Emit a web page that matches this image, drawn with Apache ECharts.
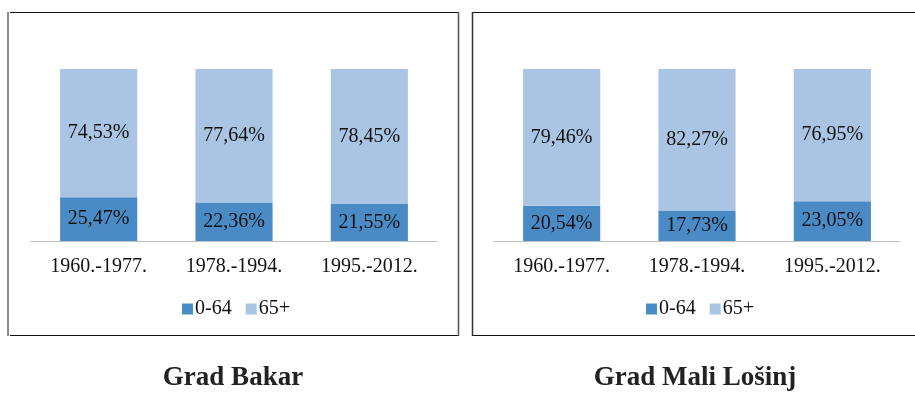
<!DOCTYPE html>
<html>
<head>
<meta charset="utf-8">
<script src="https://cdn.jsdelivr.net/npm/echarts@6/dist/echarts.min.js"></script>
<style>
  html, body { margin: 0; padding: 0; background: #fff; }
  #chart { width: 915px; height: 393px; }
</style>
</head>
<body>
<div id="chart"></div>
<script>
// Share of population by age group, three periods, two towns
const periods = ['1960.-1977.', '1978.-1994.', '1995.-2012.'];
const seriesNames = ['0-64', '65+'];
const bakarYoung = [25.47, 22.36, 21.55];
const bakarOld = [74.53, 77.64, 78.45];
const losinjYoung = [20.54, 17.73, 23.05];
const losinjOld = [79.46, 82.27, 76.95];
const townNames = ['Grad Bakar', 'Grad Mali Lošinj'];

const FONT = "'Liberation Serif', 'Times New Roman', serif";
const DARK = '#4a8bc6';
const LIGHT = '#a9c5e3';

const chart = echarts.init(document.getElementById('chart'), null, { renderer: 'canvas' });

const fmt = p => p.value.toFixed(2).replace('.', ',') + '%';

function barSeries(name, data, axisIdx, color) {
  return {
    name: name,
    type: 'bar',
    stack: 'total' + axisIdx,
    xAxisIndex: axisIdx,
    yAxisIndex: axisIdx,
    barWidth: '57%',
    data: data,
    itemStyle: { color: color },
    label: {
      show: true,
      position: 'inside',
      formatter: fmt,
      fontFamily: FONT,
      fontSize: 20,
      color: '#111'
    },
    emphasis: { disabled: true }
  };
}

const grids = [
  { left: 31, width: 406, top: 69, height: 172 },
  { left: 494, width: 406, top: 69, height: 172 }
];

function xAxis(i) {
  return {
    type: 'category',
    gridIndex: i,
    data: periods,
    axisLine: { lineStyle: { color: '#bfbfbf', width: 1 } },
    axisTick: { show: false },
    axisLabel: { fontFamily: FONT, fontSize: 20, color: '#111', margin: 16 }
  };
}

function yAxis(i) {
  return {
    type: 'value',
    gridIndex: i,
    min: 0,
    max: 100,
    show: false,
    splitLine: { show: false }
  };
}

function legend(left) {
  return {
    left: left,
    top: 294,
    data: seriesNames,
    icon: 'rect',
    itemWidth: 11,
    itemHeight: 11,
    itemGap: 14,
    selectedMode: false,
    textStyle: { fontFamily: FONT, fontSize: 20, color: '#111', padding: [0, 0, 0, -3] }
  };
}

chart.setOption({
  animation: false,
  grid: grids,
  xAxis: [xAxis(0), xAxis(1)],
  yAxis: [yAxis(0), yAxis(1)],
  legend: [legend(177), legend(641)],
  series: [
    barSeries(seriesNames[0], bakarYoung, 0, DARK),
    barSeries(seriesNames[1], bakarOld, 0, LIGHT),
    barSeries(seriesNames[0], losinjYoung, 1, DARK),
    barSeries(seriesNames[1], losinjOld, 1, LIGHT)
  ],
  graphic: [
    // left panel frame
    { type: 'line', shape: { x1: 8, y1: 12, x2: 8, y2: 336 }, style: { stroke: '#8c8c8c', lineWidth: 2 } },
    { type: 'line', shape: { x1: 10, y1: 12.5, x2: 459, y2: 12.5 }, style: { stroke: '#111', lineWidth: 1 } },
    { type: 'line', shape: { x1: 10, y1: 335.5, x2: 459, y2: 335.5 }, style: { stroke: '#111', lineWidth: 1 } },
    { type: 'line', shape: { x1: 458.5, y1: 12, x2: 458.5, y2: 336 }, style: { stroke: '#555', lineWidth: 1.5 } },
    // right panel frame
    { type: 'line', shape: { x1: 472.5, y1: 12, x2: 472.5, y2: 336 }, style: { stroke: '#333', lineWidth: 1.5 } },
    { type: 'line', shape: { x1: 473, y1: 12.5, x2: 915, y2: 12.5 }, style: { stroke: '#111', lineWidth: 1 } },
    { type: 'line', shape: { x1: 473, y1: 335.5, x2: 915, y2: 335.5 }, style: { stroke: '#111', lineWidth: 1 } },
    // town captions
    { type: 'text', x: 233, y: 378, style: { text: townNames[0], fontFamily: FONT, fontWeight: 'bold', fontSize: 27, fill: '#222', align: 'center', verticalAlign: 'middle' } },
    { type: 'text', x: 695, y: 378, style: { text: townNames[1], fontFamily: FONT, fontWeight: 'bold', fontSize: 27, fill: '#222', align: 'center', verticalAlign: 'middle' } }
  ]
});
</script>
</body>
</html>
